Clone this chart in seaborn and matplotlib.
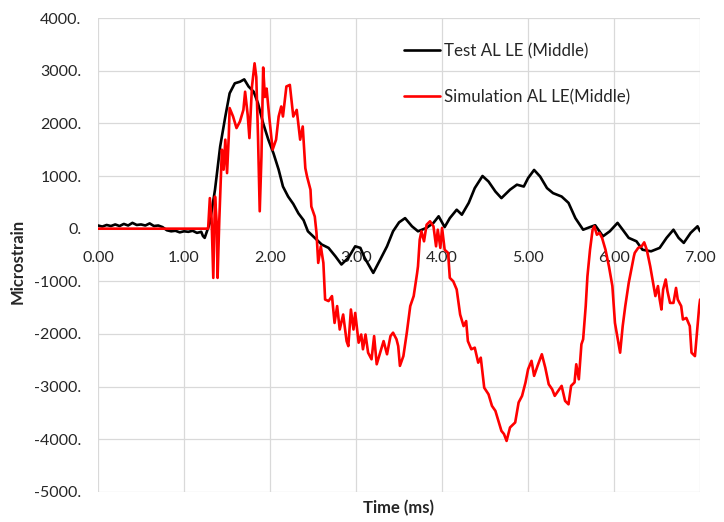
import matplotlib
matplotlib.use("Agg")
import matplotlib.pyplot as plt
import pandas as pd
import seaborn as sns
from matplotlib.ticker import FuncFormatter, MultipleLocator

# Test AL LE (Middle)
test_t = [0.00, 0.05, 0.10, 0.15, 0.20, 0.25, 0.30, 0.35, 0.40, 0.45, 0.50, 0.55,
          0.60, 0.65, 0.70, 0.75, 0.80, 0.85, 0.90, 0.95, 1.00, 1.05, 1.10, 1.15,
          1.20, 1.22, 1.24, 1.30, 1.36, 1.42, 1.48, 1.53, 1.59, 1.65, 1.70, 1.75,
          1.81, 1.86, 1.92, 1.98, 2.04, 2.10, 2.15, 2.21, 2.27, 2.33, 2.39, 2.44,
          2.52, 2.60, 2.68, 2.76, 2.83, 2.91, 2.99, 3.05, 3.10, 3.20, 3.28, 3.36,
          3.43, 3.50, 3.57, 3.65, 3.72, 3.82, 3.90, 3.96, 4.03, 4.09, 4.17, 4.23,
          4.31, 4.38, 4.47, 4.54, 4.62, 4.69, 4.79, 4.87, 4.95, 5.00, 5.07, 5.14,
          5.22, 5.29, 5.39, 5.47, 5.55, 5.64, 5.72, 5.78, 5.87, 5.95, 6.04, 6.10,
          6.17, 6.26, 6.33, 6.43, 6.53, 6.61, 6.69, 6.75, 6.81, 6.89, 6.97, 7.00]
test_us = [60, 40, 70, 50, 80, 50, 90, 60, 110, 70, 80, 60,
           100, 50, 60, 30, -30, -50, -40, -70, -50, -60, -40, -80,
           -60, -140, -175, 110, 740, 1560, 2130, 2570, 2760, 2790, 2835, 2700,
           2600, 2380, 2000, 1690, 1430, 1120, 800, 610, 470, 290, 160, -50,
           -175, -300, -365, -525, -680, -555, -335, -365, -555, -840, -590, -335,
           -50, 120, 200, 45, -50, 15, 110, 235, 30, 200, 360, 265,
           490, 770, 1000, 895, 705, 580, 740, 835, 800, 960, 1115, 990,
           770, 675, 610, 490, 200, -20, 30, 65, -145, -50, 110, -20,
           -175, -240, -400, -430, -365, -175, -20, -175, -270, -80, 45, -50]

# Simulation AL LE(Middle)
sim_t = [0.00, 1.27, 1.28, 1.30, 1.32, 1.34, 1.36, 1.38, 1.39, 1.41, 1.44, 1.46,
         1.48, 1.50, 1.52, 1.53, 1.57, 1.61, 1.65, 1.69, 1.71, 1.74, 1.76, 1.79,
         1.82, 1.84, 1.86, 1.88, 1.90, 1.92, 1.94, 1.96, 1.99, 2.03, 2.07, 2.10,
         2.13, 2.15, 2.19, 2.23, 2.27, 2.31, 2.35, 2.38, 2.41, 2.43, 2.47, 2.48,
         2.52, 2.54, 2.56, 2.59, 2.62, 2.64, 2.68, 2.72, 2.75, 2.78, 2.81, 2.85,
         2.89, 2.91, 2.94, 2.97, 2.99, 3.03, 3.06, 3.08, 3.11, 3.14, 3.18, 3.21,
         3.24, 3.28, 3.32, 3.36, 3.40, 3.43, 3.47, 3.49, 3.51, 3.55, 3.59, 3.63,
         3.67, 3.71, 3.72, 3.74, 3.76, 3.79, 3.82, 3.86, 3.90, 3.93, 3.95, 3.98,
         4.00, 4.03, 4.07, 4.09, 4.13, 4.17, 4.21, 4.25, 4.28, 4.30, 4.34, 4.38,
         4.42, 4.45, 4.49, 4.54, 4.58, 4.62, 4.66, 4.69, 4.72, 4.75, 4.79, 4.85,
         4.89, 4.93, 4.97, 5.00, 5.04, 5.07, 5.11, 5.16, 5.20, 5.24, 5.28, 5.31,
         5.35, 5.39, 5.43, 5.47, 5.50, 5.54, 5.56, 5.59, 5.62, 5.64, 5.67, 5.69,
         5.72, 5.75, 5.77, 5.80, 5.83, 5.86, 5.90, 5.94, 5.98, 6.01, 6.05, 6.07,
         6.10, 6.13, 6.17, 6.20, 6.23, 6.24, 6.28, 6.32, 6.35, 6.38, 6.42, 6.46,
         6.48, 6.51, 6.53, 6.55, 6.57, 6.60, 6.62, 6.65, 6.69, 6.72, 6.74, 6.78,
         6.80, 6.84, 6.88, 6.90, 6.94, 6.96, 6.99, 7.00]
sim_us = [0, 0, 0, 580, 200, -935, 610, 100, -935, 170, 1500, 1120,
          1690, 1055, 1750, 2290, 2130, 1910, 2035, 2255, 2600, 2160, 1720, 2700,
          3140, 2880, 1750, 330, 1370, 3060, 2500, 2660, 2130, 1500, 1690, 2130,
          2320, 2130, 2700, 2730, 2130, 2255, 1690, 1940, 1150, 990, 740, 420,
          230, -80, -650, -335, -650, -1345, -1375, -1280, -1790, -1470, -1915, -1630,
          -2135, -2230, -1535, -1915, -1600, -2165, -2010, -2290, -2010, -2355, -2480, -2040,
          -2575, -2355, -2135, -2385, -2040, -1975, -2100, -2230, -2605, -2420, -1975, -1470,
          -1280, -840, -715, -210, -50, -240, 75, 140, 45, -335, -20, -365,
          15, -400, -460, -935, -1000, -1155, -1630, -1850, -1755, -2135, -2290, -2260,
          -2545, -2450, -3020, -3145, -3365, -3460, -3680, -3840, -3900, -4030, -3775, -3680,
          -3300, -3175, -2920, -2670, -2510, -2795, -2605, -2385, -2640, -2955, -3050, -3175,
          -3080, -2985, -3270, -3335, -2985, -2920, -2575, -2860, -2195, -2100, -1470, -905,
          -400, -20, 45, -115, -80, -175, -400, -715, -1090, -1790, -2165, -2355,
          -1850, -1470, -1030, -780, -525, -460, -365, -335, -260, -400, -715, -1090,
          -1280, -1090, -1345, -1535, -1155, -965, -1185, -1410, -1410, -1125, -1345, -1470,
          -1725, -1695, -1850, -2355, -2420, -2040, -1470, -1345]

sns.set_style("white")
plt.rcParams["font.family"] = ["Lato", "DejaVu Sans"]

test = pd.DataFrame({"t": test_t, "us": test_us})
sim = pd.DataFrame({"t": sim_t, "us": sim_us})

fig = plt.figure(figsize=(7.24, 5.22), dpi=100)
ax = fig.add_axes([0.1354, 0.0575, 0.8316, 0.908])

sns.lineplot(data=test, x="t", y="us", color="black", linewidth=1.9,
             sort=False, estimator=None, label="Test AL LE (Middle)", ax=ax)
sns.lineplot(data=sim, x="t", y="us", color="#ff0000", linewidth=1.9,
             sort=False, estimator=None, label="Simulation AL LE(Middle)", ax=ax)

ax.set_xlim(0, 7)
ax.set_ylim(-5000, 4000)
ax.xaxis.set_major_locator(MultipleLocator(1))
ax.yaxis.set_major_locator(MultipleLocator(1000))
ax.xaxis.set_major_formatter(FuncFormatter(lambda v, p: f"{v:.2f}"))
ax.yaxis.set_major_formatter(FuncFormatter(lambda v, p: f"{v:.0f}."))
ax.grid(True, color="#d9d9d9", linewidth=0.9)

for s in ax.spines.values():
    s.set_visible(False)
ax.spines["bottom"].set_position(("data", 0))

ax.tick_params(axis="x", length=0, pad=16, labelsize=11.5, colors="#262626")
ax.tick_params(axis="y", length=0, pad=12, labelsize=11.5, colors="#262626")

ax.set_xlabel("")
ax.set_ylabel("")
fig.text(0.5511, 0.027, "Time (ms)", ha="center", va="center",
         fontsize=12, fontweight="bold")
fig.text(0.025, 0.5, "Microstrain", ha="center", va="center",
         rotation=90, fontsize=12, fontweight="bold")

ax.legend(loc="upper left", bbox_to_anchor=(0.508, 0.947), frameon=False,
          fontsize=12.2, handlelength=2.15, handletextpad=0.2,
          labelspacing=1.75, borderaxespad=0, borderpad=0)

plt.savefig("out.png", dpi=100)
